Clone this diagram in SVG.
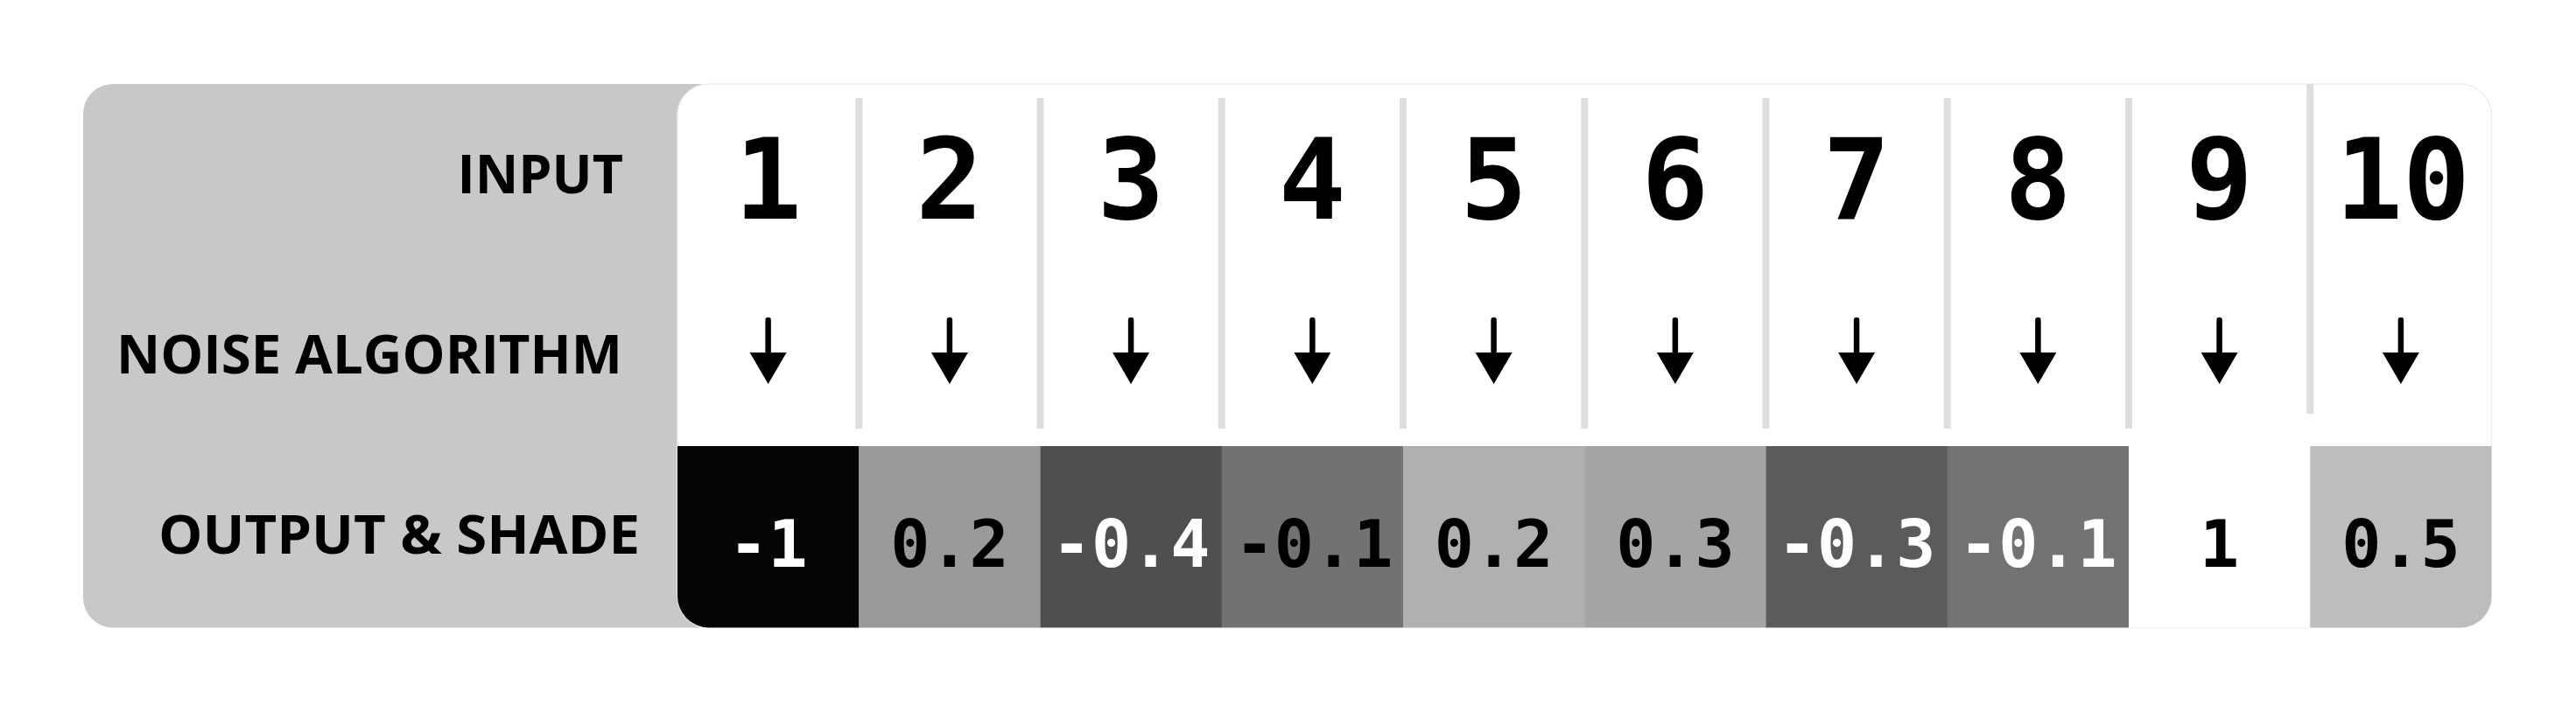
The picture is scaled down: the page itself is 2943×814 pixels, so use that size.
<svg xmlns="http://www.w3.org/2000/svg" xmlns:xlink="http://www.w3.org/1999/xlink" width="2943" height="814" viewBox="0 0 2943 814">
<style>
.lbl{font-family:"Open Sans","Liberation Sans",sans-serif;font-weight:700;font-size:61px;fill:#000;text-anchor:end}
.in{font-family:"DejaVu Sans Mono","Liberation Mono",monospace;font-weight:700;font-size:128px;fill:#000;text-anchor:middle}
.out{font-family:"DejaVu Sans Mono","Liberation Mono",monospace;font-weight:700;font-size:75px;text-anchor:middle}
.dk{fill:#000}.lt{fill:#fff}
.div{fill:#dedede}
</style>
<defs>
<clipPath id="panelClip"><rect x="774" y="96" width="2072.5" height="621.5" rx="36"/></clipPath>
<g id="arrow"><line x1="0" y1="366" x2="0" y2="406" stroke="#000" stroke-width="6.5" stroke-linecap="round"/><polygon points="-21,403 21,403 0,439" fill="#000"/></g>
</defs>
<rect width="2943" height="814" fill="#fff"/>
<g id="labels">
<rect x="95" y="96" width="740" height="621.5" rx="34" fill="#c8c8c8"/>
<text class="lbl" x="712" y="221">INPUT</text>
<text class="lbl" x="711" y="427" textLength="578" lengthAdjust="spacingAndGlyphs">NOISE ALGORITHM</text>
<text class="lbl" x="731" y="633" textLength="550" lengthAdjust="spacingAndGlyphs">OUTPUT &amp; SHADE</text>
</g>
<g id="panel">
<rect x="774" y="96" width="2072.5" height="621.5" rx="36" fill="#fff" stroke="#eeeeee" stroke-width="1.5"/>
</g>
<g clip-path="url(#panelClip)">
<g id="col1"><rect x="774" y="510" width="207.5" height="208" fill="#050505"/><text class="in" x="877.6" y="250">1</text><text class="out lt" x="877.6" y="648">-1</text></g>
<g id="col2"><rect x="981.25" y="510" width="207.5" height="208" fill="#9a9a9a"/><text class="in" x="1084.9" y="250">2</text><text class="out dk" x="1084.9" y="648">0.2</text></g>
<g id="col3"><rect x="1188.5" y="510" width="207.5" height="208" fill="#4f4f4f"/><text class="in" x="1292.1" y="250">3</text><text class="out lt" x="1292.1" y="648">-0.4</text></g>
<g id="col4"><rect x="1395.75" y="510" width="207.5" height="208" fill="#727272"/><text class="in" x="1499.4" y="250">4</text><text class="out dk" x="1501" y="648">-0.1</text></g>
<g id="col5"><rect x="1603" y="510" width="207.5" height="208" fill="#b0b0b0"/><text class="in" x="1706.6" y="250">5</text><text class="out dk" x="1706.6" y="648">0.2</text></g>
<g id="col6"><rect x="1810.25" y="510" width="207.5" height="208" fill="#a4a4a4"/><text class="in" x="1913.9" y="250">6</text><text class="out dk" x="1913.9" y="648">0.3</text></g>
<g id="col7"><rect x="2017.5" y="510" width="207.5" height="208" fill="#5b5b5a"/><text class="in" x="2121.1" y="250">7</text><text class="out lt" x="2121.1" y="648">-0.3</text></g>
<g id="col8"><rect x="2224.75" y="510" width="207.5" height="208" fill="#727372"/><text class="in" x="2328.4" y="250">8</text><text class="out lt" x="2328.4" y="648">-0.1</text></g>
<g id="col9"><rect x="2432" y="510" width="207.5" height="208" fill="#ffffff"/><text class="in" x="2535.6" y="250">9</text><text class="out dk" x="2535.6" y="648">1</text></g>
<g id="col10"><rect x="2639.25" y="510" width="207.5" height="208" fill="#bdbdbd"/><text class="in" x="2745" y="250">10</text><text class="out dk" x="2742.9" y="648">0.5</text></g>
</g>
<g id="dividers">
<rect class="div" x="977.25" y="112" width="8" height="378"/>
<rect class="div" x="1184.5" y="112" width="8" height="378"/>
<rect class="div" x="1391.75" y="112" width="8" height="378"/>
<rect class="div" x="1599" y="112" width="8" height="378"/>
<rect class="div" x="1806.25" y="112" width="8" height="378"/>
<rect class="div" x="2013.5" y="112" width="8" height="378"/>
<rect class="div" x="2220.75" y="112" width="8" height="378"/>
<rect class="div" x="2428" y="112" width="8" height="378"/>
<rect class="div" x="2635.25" y="96" width="8" height="377"/>
</g>
<g id="connectors">
<use xlink:href="#arrow" x="877.6"/>
<use xlink:href="#arrow" x="1084.9"/>
<use xlink:href="#arrow" x="1292.1"/>
<use xlink:href="#arrow" x="1499.4"/>
<use xlink:href="#arrow" x="1706.6"/>
<use xlink:href="#arrow" x="1913.9"/>
<use xlink:href="#arrow" x="2121.1"/>
<use xlink:href="#arrow" x="2328.4"/>
<use xlink:href="#arrow" x="2535.6"/>
<use xlink:href="#arrow" x="2742.9"/>
</g>
</svg>
